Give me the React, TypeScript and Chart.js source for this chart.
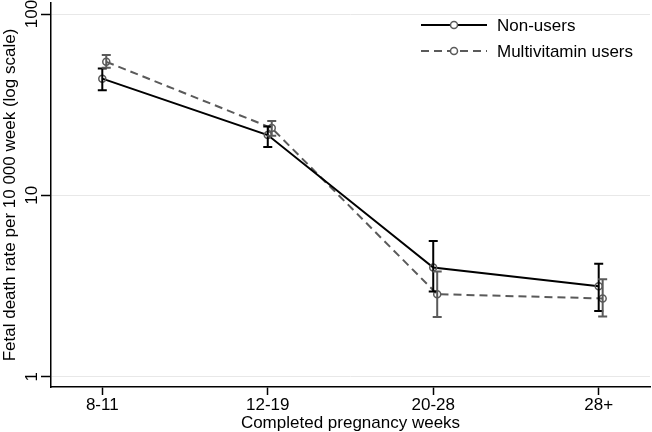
import React, { useEffect, useRef } from 'react';
import { Chart, registerables } from 'chart.js';

Chart.register(...registerables);

const categories = ['8-11', '12-19', '20-28', '28+'];
const seriesNames = ['Non-users', 'Multivitamin users'];
const nonUsers = [44, 21.5, 4.0, 3.15];
const nonUsersLow = [38, 18.5, 2.95, 2.3];
const nonUsersHigh = [50, 24, 5.6, 4.2];
const multiUsers = [54.5, 23.5, 2.85, 2.7];
const multiLow = [50.5, 21.3, 2.13, 2.15];
const multiHigh = [59.5, 25.7, 3.8, 3.45];
const yTicks = [1, 10, 100];
const xAxisTitle = 'Completed pregnancy weeks';
const yAxisTitle = 'Fetal death rate per 10 000 week (log scale)';

const FONT_FAMILY = '"Liberation Sans", Arial, Helvetica, sans-serif';
const font = { family: FONT_FAMILY, size: 17 };
const GRAY = '#5a5a5a';

const errorBarsPlugin = {
  id: 'errorBars',
  afterDatasetsDraw(chart: any) {
    const { ctx, scales } = chart;
    const xs = scales.x;
    const ys = scales.y;
    chart.data.datasets.forEach((ds: any) => {
      ctx.save();
      ctx.strokeStyle = ds.errColor;
      ctx.lineWidth = 2;
      ctx.setLineDash([]);
      ds.data.forEach((p: any, i: number) => {
        const px = xs.getPixelForValue(p.x);
        const top = ys.getPixelForValue(ds.errHigh[i]);
        const bot = ys.getPixelForValue(ds.errLow[i]);
        ctx.beginPath();
        ctx.moveTo(px, top);
        ctx.lineTo(px, bot);
        ctx.moveTo(px - 4.5, top);
        ctx.lineTo(px + 4.5, top);
        ctx.moveTo(px - 4.5, bot);
        ctx.lineTo(px + 4.5, bot);
        ctx.stroke();
      });
      ctx.restore();
    });
  },
};

const yLabelsPlugin = {
  id: 'yLabels',
  afterDraw(chart: any) {
    const { ctx, scales, chartArea } = chart;
    const ys = scales.y;
    ctx.save();
    ctx.fillStyle = '#000';
    ctx.font = `17px ${FONT_FAMILY}`;
    ctx.textAlign = 'center';
    ctx.textBaseline = 'alphabetic';
    yTicks.forEach((v) => {
      const py = ys.getPixelForValue(v);
      ctx.save();
      ctx.translate(chartArea.left - 14, py);
      ctx.rotate(-Math.PI / 2);
      ctx.fillText(String(v), 0, 0);
      ctx.restore();
    });
    ctx.restore();
  },
};

const legendPlugin = {
  id: 'customLegend',
  afterDraw(chart: any) {
    const { ctx, chartArea } = chart;
    const x0 = chartArea.left + 370;
    const lineLen = 66;
    chart.data.datasets.forEach((ds: any, i: number) => {
      const y = chartArea.top + 22 + i * 26;
      ctx.save();
      ctx.strokeStyle = ds.borderColor;
      ctx.lineWidth = ds.borderWidth;
      ctx.setLineDash(ds.borderDash || []);
      ctx.beginPath();
      ctx.moveTo(x0, y);
      ctx.lineTo(x0 + lineLen, y);
      ctx.stroke();
      ctx.setLineDash([]);
      ctx.strokeStyle = ds.pointBorderColor;
      ctx.lineWidth = ds.pointBorderWidth;
      ctx.fillStyle = '#fff';
      ctx.beginPath();
      ctx.arc(x0 + lineLen / 2, y, ds.pointRadius, 0, Math.PI * 2);
      ctx.fill();
      ctx.stroke();
      ctx.fillStyle = '#000';
      ctx.font = `17px ${FONT_FAMILY}`;
      ctx.textAlign = 'left';
      ctx.textBaseline = 'middle';
      ctx.fillText(seriesNames[i], x0 + lineLen + 10, y + 1);
      ctx.restore();
    });
  },
};

export default function App() {
  const canvasRef = useRef<HTMLCanvasElement | null>(null);

  useEffect(() => {
    const canvas = canvasRef.current;
    if (!canvas) return;
    const multiOffset = 0.024;
    const chart = new Chart(canvas, {
      type: 'line',
      data: {
        datasets: [
          {
            label: seriesNames[0],
            data: nonUsers.map((v, i) => ({ x: i, y: v })),
            borderColor: '#000',
            borderWidth: 2,
            pointRadius: 3.5,
            pointBorderWidth: 1.5,
            pointBorderColor: GRAY,
            pointBackgroundColor: 'rgba(0,0,0,0)',
            tension: 0,
            errLow: nonUsersLow,
            errHigh: nonUsersHigh,
            errColor: '#000',
          } as any,
          {
            label: seriesNames[1],
            data: multiUsers.map((v, i) => ({ x: i + multiOffset, y: v })),
            borderColor: GRAY,
            borderWidth: 2,
            borderDash: [8, 5],
            pointRadius: 3.5,
            pointBorderWidth: 1.5,
            pointBorderColor: GRAY,
            pointBackgroundColor: 'rgba(0,0,0,0)',
            tension: 0,
            errLow: multiLow,
            errHigh: multiHigh,
            errColor: GRAY,
          } as any,
        ],
      },
      options: {
        animation: false,
        responsive: false,
        maintainAspectRatio: false,
        layout: { autoPadding: false, padding: { top: 3, right: 2, left: 0, bottom: 0 } },
        plugins: {
          legend: { display: false },
          tooltip: { enabled: false },
        },
        scales: {
          x: {
            type: 'linear',
            min: -0.31,
            max: 3.31,
            afterBuildTicks: (s: any) => {
              s.ticks = categories.map((_, i) => ({ value: i }));
            },
            afterFit: (s: any) => {
              s.height = 45;
              s.paddingLeft = 0;
              s.paddingRight = 0;
            },
            ticks: {
              callback: (v: any) => categories[Math.round(Number(v))],
              font,
              color: '#000',
              padding: 0,
              autoSkip: false,
              maxRotation: 0,
              minRotation: 0,
            },
            grid: {
              drawOnChartArea: false,
              tickLength: 8,
              tickColor: '#000',
              tickWidth: 1.5,
            },
            border: { color: '#000', width: 1.5 },
            title: {
              display: true,
              text: xAxisTitle,
              font,
              color: '#000',
              padding: { top: 0, bottom: -1.5 },
            },
          },
          y: {
            type: 'logarithmic',
            min: 0.877,
            max: 115,
            afterBuildTicks: (s: any) => {
              s.ticks = yTicks.map((v) => ({ value: v }));
            },
            afterFit: (s: any) => {
              s.width = 51;
              s.paddingTop = 0;
              s.paddingBottom = 0;
            },
            ticks: { display: false },
            grid: {
              color: '#e8e8e8',
              lineWidth: 1,
              tickLength: 10,
              tickColor: '#000',
              tickWidth: 1.5,
            },
            border: { color: '#000', width: 1.5 },
            title: {
              display: true,
              text: yAxisTitle,
              font,
              color: '#000',
              padding: { top: 0, bottom: 0 },
            },
          },
        },
      } as any,
      plugins: [errorBarsPlugin, yLabelsPlugin, legendPlugin],
    });
    return () => chart.destroy();
  }, []);

  return (
    <div style={{ position: 'absolute', left: 0, top: 0, width: 652, height: 432, background: '#fff' }}>
      <canvas ref={canvasRef} width={652} height={432} style={{ width: 652, height: 432, display: 'block' }} />
    </div>
  );
}
